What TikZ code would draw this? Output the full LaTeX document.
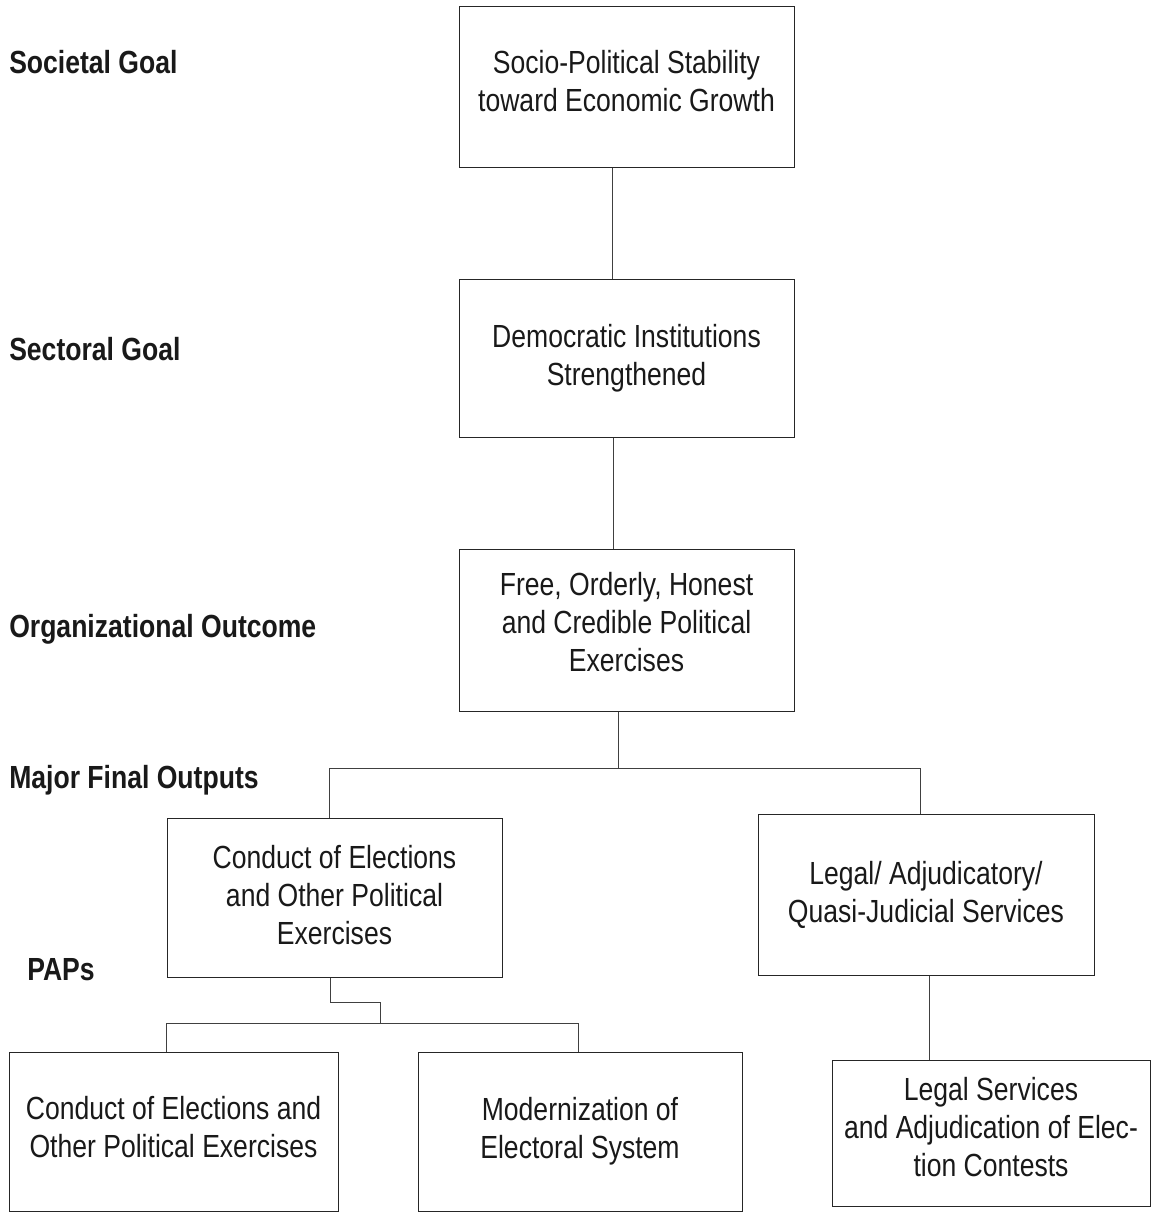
\documentclass[tikz,border=0pt]{standalone}
\usepackage{fontspec}
\setmainfont[FakeStretch=0.83]{Liberation Sans}
\usetikzlibrary{calc}

\tikzset{
  box/.style={draw=black!85, line width=0.75pt, align=center, inner sep=0pt,
    minimum width={335*0.75pt}, minimum height={160*0.75pt},
    font=\fontsize{24}{28.5}\selectfont, text=black!90},
  lift/.style={text depth=#1},
  level/.style={anchor=west, inner sep=0pt,
    font=\fontsize{24}{28.5}\selectfont\bfseries, text=black!90},
  link/.style={draw=black!75, line width=0.75pt},
}

\begin{document}
\begin{tikzpicture}[x=0.75pt,y=0.75pt,yscale=-1,xscale=1]
\useasboundingbox (0,0) rectangle (1164,1213);

% level labels
\node[level] (lsoc) at (9,62) {Societal Goal};
\node[level] (lsec) at (9,349) {Sectoral Goal};
\node[level] (lorg) at (9,629) {Organizational Outcome};
\node[level] (lmfo) at (9,780) {Major Final Outputs};
\node[level] (lpap) at (27,970) {PAPs};

% boxes
\node[box, lift=9pt] (goal) at (626.5,87) {Socio-Political Stability\\toward Economic Growth};
\node[box, minimum height={158*0.75pt}] (sector) at (626.5,358) {Democratic Institutions\\Strengthened};
\node[box, lift=12pt, minimum height={162*0.75pt}] (outcome) at (626.5,630) {Free, Orderly, Honest\\and Credible Political\\Exercises};
\node[box, lift=4.5pt, minimum height={159*0.75pt}] (mfoA) at (334.5,897.5) {Conduct of Elections\\and Other Political\\Exercises};
\node[box, minimum width={336*0.75pt}, minimum height={161*0.75pt}] (mfoB) at (926,894.5) {Legal/ Adjudicatory/\\Quasi-Judicial Services};
\node[box, lift=7.5pt, minimum width={329*0.75pt}, minimum height={159*0.75pt}] (papA) at (173.5,1131.5) {Conduct of Elections and\\Other Political Exercises};
\node[box, minimum width={324*0.75pt}, minimum height={159*0.75pt}] (papB) at (580,1131.5) {Modernization of\\Electoral System};
\node[box, lift=9pt, minimum width={318*0.75pt}, minimum height={146*0.75pt}] (papC) at (991,1133) {Legal Services\\and Adjudication of Elec-\\tion Contests};

% connectors
\coordinate (up1) at (612,0);
\coordinate (up2) at (613.5,0);
\coordinate (hub) at (618,768);
\coordinate (busL) at (329,768);
\coordinate (busR) at (920.5,768);
\coordinate (stepA) at (330,1002);
\coordinate (stepB) at (380,1002);
\coordinate (busP) at (380,1023);
\coordinate (busPL) at (166,1023);
\coordinate (busPR) at (578,1023);
\coordinate (dropC) at (929,0);

\draw[link] (goal.south -| up1) -- (sector.north -| up1);
\draw[link] (sector.south -| up2) -- (outcome.north -| up2);
\draw[link] (outcome.south -| hub) -- (hub);
\draw[link] (mfoA.north -| busL) -- (busL) -- (busR) -- (mfoB.north -| busR);
\draw[link] (mfoA.south -| stepA) -- (stepA) -- (stepB) -- (busP);
\draw[link] (papA.north -| busPL) -- (busPL) -- (busPR) -- (papB.north -| busPR);
\draw[link] (mfoB.south -| dropC) -- (papC.north -| dropC);
\end{tikzpicture}
\end{document}
